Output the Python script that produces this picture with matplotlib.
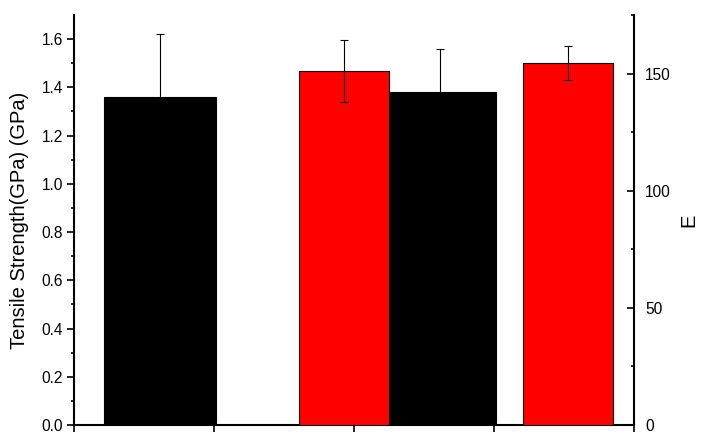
import matplotlib
matplotlib.use('Agg')
import matplotlib.pyplot as plt
import numpy as np
from matplotlib.ticker import FixedLocator, NullFormatter

plt.rcParams['font.family'] = ['Liberation Sans', 'DejaVu Sans']

# data
groups = [1, 2]
strength = [1.36, 1.38]          # GPa, left axis (black)
strength_err = [0.26, 0.18]
modulus = [151.0, 154.4]         # E, right axis (red)
modulus_err = [13.2, 7.2]

fig = plt.figure(figsize=(7.02, 4.33), dpi=100)
rect = [74 / 702, 8 / 433, 560 / 702, 410 / 433]

# black layer (left axis)
ax1 = fig.add_axes(rect)
ax1.bar(groups, strength, width=0.4, color='black', edgecolor='black', linewidth=0.8,
        yerr=strength_err, error_kw=dict(ecolor='black', elinewidth=0.8, capsize=3, capthick=0.8))
ax1.set_xlim(0.6946, 2.6946)
ax1.set_ylim(0, 1.7)
ax1.set_xticks(np.linspace(0.6946, 2.6946, 5))
ax1.xaxis.set_major_formatter(NullFormatter())
ax1.set_yticks(np.arange(0, 1.61, 0.2))
ax1.set_yticklabels(['%.1f' % v for v in np.arange(0, 1.61, 0.2)])
ax1.yaxis.set_minor_locator(FixedLocator(np.arange(0.1, 1.6, 0.2)))
ax1.tick_params(axis='both', which='major', direction='out', length=5, width=1.2, labelsize=11.2, pad=3)
ax1.tick_params(axis='y', which='minor', direction='out', length=2.5, width=1.2)
ax1.set_ylabel('Tensile Strength(GPa) (GPa)', fontsize=14.5, labelpad=9)
ax1.spines['top'].set_visible(False)
ax1.spines['right'].set_visible(False)
ax1.spines['left'].set_linewidth(1.5)
ax1.spines['bottom'].set_linewidth(1.5)

# red layer (right axis)
ax2 = fig.add_axes(rect, facecolor='none')
ax2.bar(groups, modulus, width=0.4, color='#ff0000', edgecolor='black', linewidth=0.8,
        yerr=modulus_err, error_kw=dict(ecolor='black', elinewidth=0.8, capsize=3, capthick=0.8))
ax2.set_xlim(-0.2054, 2.2946)
ax2.set_ylim(0, 175)
ax2.set_xticks([])
ax2.yaxis.tick_right()
ax2.yaxis.set_label_position('right')
ax2.set_yticks([0, 50, 100, 150])
ax2.yaxis.set_minor_locator(FixedLocator([25, 75, 125, 175]))
ax2.tick_params(axis='y', which='major', direction='in', length=5, width=1.2, labelsize=11.2, pad=8)
ax2.tick_params(axis='y', which='minor', direction='in', length=2.5, width=1.2)
ax2.set_ylabel('E', fontsize=14.5, rotation=90, labelpad=6)
for side in ['top', 'left', 'bottom']:
    ax2.spines[side].set_visible(False)
ax2.spines['right'].set_linewidth(1.5)

fig.savefig('out.png', dpi=100)
